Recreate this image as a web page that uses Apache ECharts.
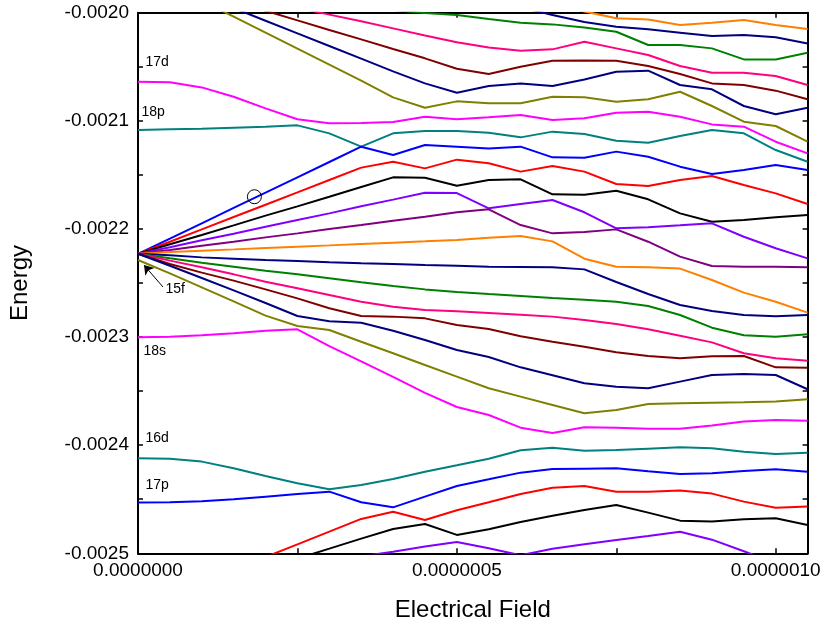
<!DOCTYPE html>
<html><head><meta charset="utf-8">
<script src="https://cdn.jsdelivr.net/npm/echarts@6.0.0/dist/echarts.min.js"></script>
<style>html,body{margin:0;padding:0;background:#fff}#chart{width:824px;height:628px}</style>
</head><body><div id="chart"></div>
<script>
// Electrical field samples (x)
const fieldValues = [0, 5e-8, 10e-8, 15e-8, 20e-8, 25e-8, 30e-8, 35e-8, 40e-8, 45e-8, 50e-8,
  55e-8, 60e-8, 65e-8, 70e-8, 75e-8, 80e-8, 85e-8, 90e-8, 95e-8, 100e-8, 105e-8];

// Energy levels, top to bottom
const level01 = [null,null,null,null,null,null,null,null,null,null,null,null,null,-0.0019923,-0.0019988,-0.0020052,-0.0020062,-0.0020114,-0.0020092,-0.0020068,-0.0020114,-0.0020151];
const level02 = [null,null,null,null,null,null,null,null,null,null,null,-0.0019877,-0.0019948,-0.0020022,-0.0020086,-0.0020129,-0.0020154,-0.0020185,-0.0020216,-0.0020207,-0.0020228,-0.0020284];
const level03 = [null,null,null,null,null,null,null,null,-0.0019975,-0.0020003,-0.0020022,-0.0020059,-0.0020092,-0.0020108,-0.0020136,-0.0020176,-0.0020299,-0.0020299,-0.0020330,-0.0020432,-0.0020432,-0.0020370];
const level04 = [null,null,null,null,null,-0.0019954,-0.0020018,-0.0020080,-0.0020145,-0.0020210,-0.0020274,-0.0020321,-0.0020351,-0.0020339,-0.0020268,-0.0020330,-0.0020391,-0.0020493,-0.0020555,-0.0020555,-0.0020586,-0.0020669];
const level05 = [null,null,null,-0.0019892,-0.0019982,-0.0020071,-0.0020160,-0.0020247,-0.0020336,-0.0020422,-0.0020518,-0.0020567,-0.0020499,-0.0020444,-0.0020441,-0.0020444,-0.0020493,-0.0020567,-0.0020654,-0.0020669,-0.0020721,-0.0020801];
const level06 = [null,null,null,-0.0019957,-0.0020074,-0.0020191,-0.0020308,-0.0020425,-0.0020543,-0.0020654,-0.0020740,-0.0020678,-0.0020654,-0.0020678,-0.0020617,-0.0020546,-0.0020536,-0.0020669,-0.0020709,-0.0020863,-0.0020940,-0.0020879];
const level07 = [null,null,-0.0019889,-0.0020037,-0.0020185,-0.0020333,-0.0020481,-0.0020629,-0.0020783,-0.0020879,-0.0020820,-0.0020838,-0.0020838,-0.0020777,-0.0020783,-0.0020823,-0.0020801,-0.0020731,-0.0020863,-0.0021008,-0.0021048,-0.0021193];
const level08 = [-0.0020638,-0.0020644,-0.0020691,-0.0020777,-0.0020885,-0.0020986,-0.0021023,-0.0021020,-0.0021011,-0.0020962,-0.0020986,-0.0020968,-0.0020946,-0.0020993,-0.0020977,-0.0020925,-0.0020916,-0.0020962,-0.0021033,-0.0021054,-0.0021193,-0.0021301];
const level09 = [-0.0021085,-0.0021079,-0.0021073,-0.0021063,-0.0021054,-0.0021042,-0.0021116,-0.0021239,-0.0021116,-0.0021094,-0.0021094,-0.0021110,-0.0021153,-0.0021100,-0.0021122,-0.0021184,-0.0021202,-0.0021141,-0.0021085,-0.0021116,-0.0021270,-0.0021378];
const level10 = [-0.0022230,-0.0022090,-0.0021948,-0.0021806,-0.0021665,-0.0021523,-0.0021381,-0.0021239,-0.0021316,-0.0021224,-0.0021239,-0.0021255,-0.0021239,-0.0021338,-0.0021341,-0.0021285,-0.0021332,-0.0021424,-0.0021492,-0.0021455,-0.0021409,-0.0021455];
const level11 = [-0.0022230,-0.0022118,-0.0022004,-0.0021890,-0.0021776,-0.0021662,-0.0021547,-0.0021433,-0.0021378,-0.0021440,-0.0021359,-0.0021393,-0.0021470,-0.0021418,-0.0021470,-0.0021584,-0.0021603,-0.0021547,-0.0021510,-0.0021594,-0.0021671,-0.0021769];
const level12 = [-0.0022230,-0.0022142,-0.0022056,-0.0021967,-0.0021877,-0.0021791,-0.0021702,-0.0021612,-0.0021523,-0.0021526,-0.0021600,-0.0021547,-0.0021541,-0.0021680,-0.0021683,-0.0021646,-0.0021726,-0.0021856,-0.0021933,-0.0021917,-0.0021893,-0.0021871];
const level13 = [-0.0022230,-0.0022170,-0.0022105,-0.0022044,-0.0021979,-0.0021917,-0.0021856,-0.0021791,-0.0021729,-0.0021665,-0.0021668,-0.0021809,-0.0021769,-0.0021732,-0.0021846,-0.0021994,-0.0021985,-0.0021967,-0.0021948,-0.0022072,-0.0022179,-0.0022272];
const level14 = [-0.0022230,-0.0022195,-0.0022155,-0.0022118,-0.0022078,-0.0022041,-0.0022001,-0.0021964,-0.0021924,-0.0021887,-0.0021846,-0.0021819,-0.0021964,-0.0022041,-0.0022028,-0.0022004,-0.0022118,-0.0022256,-0.0022343,-0.0022349,-0.0022349,-0.0022355];
const level15 = [-0.0022230,-0.0022213,-0.0022201,-0.0022189,-0.0022176,-0.0022164,-0.0022152,-0.0022139,-0.0022127,-0.0022115,-0.0022102,-0.0022081,-0.0022065,-0.0022115,-0.0022275,-0.0022349,-0.0022355,-0.0022367,-0.0022472,-0.0022589,-0.0022673,-0.0022774];
const level16 = [-0.0022230,-0.0022244,-0.0022263,-0.0022275,-0.0022287,-0.0022297,-0.0022309,-0.0022318,-0.0022324,-0.0022334,-0.0022340,-0.0022349,-0.0022352,-0.0022355,-0.0022374,-0.0022491,-0.0022602,-0.0022703,-0.0022759,-0.0022796,-0.0022808,-0.0022796];
const level17 = [-0.0022230,-0.0022272,-0.0022312,-0.0022349,-0.0022386,-0.0022420,-0.0022457,-0.0022494,-0.0022528,-0.0022559,-0.0022583,-0.0022602,-0.0022620,-0.0022639,-0.0022654,-0.0022673,-0.0022713,-0.0022796,-0.0022913,-0.0022984,-0.0022996,-0.0022975];
const level18 = [-0.0022230,-0.0022293,-0.0022355,-0.0022420,-0.0022488,-0.0022549,-0.0022611,-0.0022673,-0.0022719,-0.0022750,-0.0022762,-0.0022777,-0.0022793,-0.0022811,-0.0022842,-0.0022879,-0.0022928,-0.0022987,-0.0023049,-0.0023150,-0.0023197,-0.0023218];
const level19 = [-0.0022230,-0.0022324,-0.0022404,-0.0022478,-0.0022559,-0.0022642,-0.0022734,-0.0022805,-0.0022811,-0.0022827,-0.0022888,-0.0022925,-0.0022993,-0.0023043,-0.0023089,-0.0023141,-0.0023175,-0.0023197,-0.0023178,-0.0023175,-0.0023280,-0.0023283];
const level20 = [-0.0022230,-0.0022340,-0.0022454,-0.0022568,-0.0022685,-0.0022805,-0.0022854,-0.0022867,-0.0022941,-0.0023027,-0.0023120,-0.0023184,-0.0023280,-0.0023354,-0.0023428,-0.0023459,-0.0023474,-0.0023412,-0.0023351,-0.0023342,-0.0023351,-0.0023483];
const level21 = [-0.0022287,-0.0022411,-0.0022540,-0.0022670,-0.0022802,-0.0022898,-0.0022935,-0.0023043,-0.0023150,-0.0023258,-0.0023366,-0.0023474,-0.0023551,-0.0023628,-0.0023705,-0.0023674,-0.0023619,-0.0023613,-0.0023607,-0.0023604,-0.0023597,-0.0023576];
const level22 = [-0.0023002,-0.0022996,-0.0022984,-0.0022965,-0.0022941,-0.0022928,-0.0023083,-0.0023224,-0.0023369,-0.0023517,-0.0023647,-0.0023721,-0.0023838,-0.0023887,-0.0023835,-0.0023838,-0.0023847,-0.0023847,-0.0023819,-0.0023782,-0.0023767,-0.0023773];
const level23 = [-0.0024121,-0.0024125,-0.0024152,-0.0024214,-0.0024285,-0.0024353,-0.0024408,-0.0024368,-0.0024313,-0.0024245,-0.0024186,-0.0024125,-0.0024047,-0.0024023,-0.0024051,-0.0024044,-0.0024032,-0.0024020,-0.0024029,-0.0024060,-0.0024081,-0.0024069];
const level24 = [-0.0024531,-0.0024528,-0.0024519,-0.0024501,-0.0024476,-0.0024451,-0.0024430,-0.0024528,-0.0024575,-0.0024476,-0.0024377,-0.0024316,-0.0024254,-0.0024220,-0.0024217,-0.0024214,-0.0024242,-0.0024266,-0.0024260,-0.0024239,-0.0024223,-0.0024245];
const level25 = [null,null,null,-0.0025151,-0.0025034,-0.0024917,-0.0024800,-0.0024682,-0.0024615,-0.0024692,-0.0024602,-0.0024528,-0.0024451,-0.0024393,-0.0024377,-0.0024430,-0.0024430,-0.0024420,-0.0024448,-0.0024522,-0.0024578,-0.0024568];
const level26 = [null,null,null,null,null,-0.0025049,-0.0024957,-0.0024864,-0.0024775,-0.0024729,-0.0024830,-0.0024778,-0.0024710,-0.0024652,-0.0024599,-0.0024553,-0.0024624,-0.0024698,-0.0024707,-0.0024686,-0.0024676,-0.0024738];
const level27 = [null,null,null,null,null,null,null,-0.0025028,-0.0024985,-0.0024938,-0.0024895,-0.0024954,-0.0025018,-0.0024957,-0.0024917,-0.0024877,-0.0024840,-0.0024800,-0.0024874,-0.0024981,-0.0025092,-0.0025200];

const levels = [level01,level02,level03,level04,level05,level06,level07,level08,level09,level10,
  level11,level12,level13,level14,level15,level16,level17,level18,level19,level20,
  level21,level22,level23,level24,level25,level26,level27];
const levelColors = ['#FF8000','#000080','#008000','#FF0080','#800000','#000080','#808000','#FF00FF','#008080',
  '#0000FF','#FF0000','#000000','#8000FF','#800080','#FF8000','#000080','#008000','#FF0080','#800000','#000080',
  '#808000','#FF00FF','#008080','#0000FF','#FF0000','#000000','#8000FF'];

// State annotations
const stateLabels = ['17d', '18p', '18s', '16d', '17p', '15f'];
const stateLabelField = [1.18e-8, 0.55e-8, 0.86e-8, 1.18e-8, 1.18e-8, 4.31e-8];
const stateLabelEnergy = [-0.0020456, -0.0020918, -0.0023129, -0.0023934, -0.0024368, -0.0022556];
const arrowTail = [3.92e-8, -0.0022537];
const arrowTip = [0.94e-8, -0.0022334];
const circleMark = [1.825e-7, -0.0021702];

const FONT = '"Liberation Sans", Arial, Helvetica, sans-serif';
const chart = echarts.init(document.getElementById('chart'), null, {renderer: 'canvas'});

const near = (v, step) => Math.abs(v / step - Math.round(v / step)) < 1e-6;
const axisLineStyle = {color: '#000', width: 2};
const tickStyle = {inside: true, length: 5, lineStyle: {color: '#000', width: 1.5}};

const series = levels.map((ys, i) => ({
  type: 'line',
  data: fieldValues.map((x, j) => [x, ys[j]]).filter(p => p[1] !== null),
  showSymbol: false,
  symbol: 'none',
  clip: true,
  silent: true,
  lineStyle: {color: levelColors[i], width: 2},
  itemStyle: {color: levelColors[i]},
  z: 2
}));

series.push({
  type: 'scatter',
  symbolSize: 0,
  silent: true,
  z: 5,
  itemStyle: {opacity: 1},
  data: stateLabels.map((t, i) => [stateLabelField[i], stateLabelEnergy[i], t]),
  label: {
    show: true, position: 'right', distance: 0,
    formatter: p => p.data[2],
    color: '#000', opacity: 1, textBorderWidth: 0, fontSize: 14, fontFamily: FONT
  },
  markLine: {
    silent: true,
    symbol: ['none', 'arrow'],
    symbolSize: 9,
    label: {show: false},
    lineStyle: {color: '#000', width: 1, type: 'solid', opacity: 1},
    data: [[{coord: arrowTail}, {coord: arrowTip}]]
  }
});

series.push({
  type: 'scatter',
  symbol: 'circle',
  symbolSize: 14,
  silent: true,
  z: 6,
  data: [circleMark],
  itemStyle: {color: 'rgba(0,0,0,0)', borderColor: '#000', borderWidth: 1, opacity: 1}
});

const option = {
  animation: false,
  backgroundColor: '#fff',
  grid: {left: 137.5, right: 16.4, top: 12.7, bottom: 74.7},
  xAxis: [{
    type: 'value', min: 0, max: 1.05e-6, interval: 2.5e-7, position: 'bottom',
    name: 'Electrical Field', nameLocation: 'middle', nameGap: 45,
    nameTextStyle: {fontSize: 24, color: '#000', fontFamily: FONT},
    axisLine: {onZero: false, lineStyle: axisLineStyle},
    axisTick: tickStyle,
    axisLabel: {fontSize: 19, color: '#000', fontFamily: FONT, margin: 8, showMaxLabel: false,
      formatter: v => near(v, 5e-7) ? v.toFixed(7) : ''},
    splitLine: {show: false}
  }, {
    type: 'value', min: 0, max: 1.05e-6, interval: 2.5e-7, position: 'top',
    axisLine: {onZero: false, lineStyle: axisLineStyle},
    axisTick: tickStyle, axisLabel: {show: false}, splitLine: {show: false}
  }],
  yAxis: [{
    type: 'value', min: -0.0025, max: -0.0020, interval: 0.00005, position: 'left',
    name: 'Energy', nameLocation: 'middle', nameGap: 106,
    nameTextStyle: {fontSize: 24, color: '#000', fontFamily: FONT},
    axisLine: {onZero: false, lineStyle: axisLineStyle},
    axisTick: tickStyle,
    axisLabel: {fontSize: 19, color: '#000', fontFamily: FONT, margin: 9, showMinLabel: true, showMaxLabel: true,
      formatter: v => near(v, 1e-4) ? v.toFixed(4) : ''},
    splitLine: {show: false}
  }, {
    type: 'value', min: -0.0025, max: -0.0020, interval: 0.00005, position: 'right',
    axisLine: {onZero: false, lineStyle: axisLineStyle},
    axisTick: tickStyle, axisLabel: {show: false}, splitLine: {show: false}
  }],
  series: series
};
chart.setOption(option);
</script>
</body></html>
